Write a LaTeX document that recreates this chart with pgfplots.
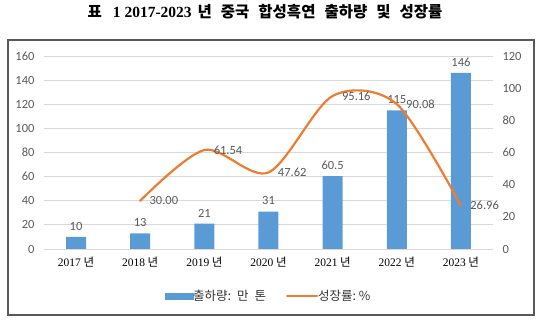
\documentclass[border=0pt]{standalone}
\usepackage{pgfplots}
\pgfplotsset{compat=1.18}
\usepackage{fontspec}
\setmainfont{Carlito}
\newfontfamily\kr{Noto Sans CJK KR}
\newfontfamily\tnr{Liberation Serif}
\definecolor{barblue}{HTML}{5B9BD5}
\definecolor{lineor}{HTML}{ED7D31}
\definecolor{tickgray}{HTML}{595959}
\definecolor{gridgray}{HTML}{D9D9D9}
\begin{document}
\begin{tikzpicture}[x=1pt,y=1pt]
\path (0,0) rectangle (541,321);
\draw[color=black!65, line width=1.2pt] (8,6) rectangle (534,281);
\node[font=\fontsize{15.5}{17}\selectfont\bfseries, inner sep=0pt] at (265,309) {{\kr 표}\hspace{11pt}{\tnr 1 2017-2023}\hspace{6pt}{\kr 년}\hspace{9pt}{\kr 중국}\hspace{9pt}{\kr 합성흑연}\hspace{9pt}{\kr 출하량}\hspace{9pt}{\kr 및}\hspace{9pt}{\kr 성장률}};
\begin{axis}[at={(44pt,72pt)}, anchor=south west, scale only axis, width=449pt, height=193pt,
 xmin=-0.5, xmax=6.5, ymin=0, ymax=160, ytick={0,20,...,160},
 xtick={0,...,6},
 xticklabels={{\tnr 2017} {\kr 년},{\tnr 2018} {\kr 년},{\tnr 2019} {\kr 년},{\tnr 2020} {\kr 년},{\tnr 2021} {\kr 년},{\tnr 2022} {\kr 년},{\tnr 2023} {\kr 년}},
 ymajorgrids, grid style={gridgray, line width=0.8pt},
 axis line style={draw=none}, major tick length=0pt,
 /pgf/number format/assume math mode=true,
 yticklabel style={font=\fontsize{12.5}{14}\selectfont, color=tickgray, xshift=-6pt},
 xticklabel style={font=\fontsize{11.5}{13}\selectfont, color=black, yshift=-4pt},
 ybar, bar width=20pt, bar shift=0pt,
 nodes near coords,
 every node near coord/.append style={font=\fontsize{12.5}{14}\selectfont, color=tickgray, yshift=3pt},
 clip=false]
\addplot[fill=barblue, draw=none] coordinates {(0,10)(1,13)(2,21)(3,31)(4,60.5)(5,115)(6,146)};
\end{axis}
\begin{axis}[at={(44pt,72pt)}, anchor=south west, scale only axis, width=449pt, height=193pt,
 xmin=-0.5, xmax=6.5, ymin=0, ymax=120, ytick={0,20,...,120}, xtick=\empty,
 yticklabel pos=right, axis line style={draw=none}, major tick length=0pt,
 /pgf/number format/assume math mode=true,
 yticklabel style={font=\fontsize{12.5}{14}\selectfont, color=tickgray, xshift=6pt},
 clip=false,
 legend columns=2,
 legend style={draw=none, fill=none, at={(0.5,-0.2435)}, anchor=center,
   font=\kr\fontsize{12.5}{14}\selectfont, text=black!80,
   /tikz/every even column/.append style={column sep=18pt},
   /tikz/every odd column/.append style={column sep=-2pt}},
 ]
\addlegendimage{legend image code/.code={\fill[barblue] (0pt,-3pt) rectangle (28pt,3pt);}}
\addlegendentry{출하량:\hspace{6pt}만\hspace{6pt}톤}
\addplot[lineor, line width=2.2pt, smooth, tension=0.5, line cap=round,
  legend image code/.code={\draw[lineor,line width=2pt] (0pt,0pt) -- (30pt,0pt);},
  nodes near coords={\pgfmathprintnumber[fixed,fixed zerofill,precision=2]{\pgfplotspointmeta}},
  every node near coord/.append style={font=\fontsize{12.5}{14}\selectfont, color=tickgray, anchor=west, xshift=5pt}]
  coordinates {(1,30.00)(2,61.54)(3,47.62)(4,95.16)(5,90.08)(6,26.96)};
\addlegendentry{성장률:\ \%}
\end{axis}
\end{tikzpicture}
\end{document}
